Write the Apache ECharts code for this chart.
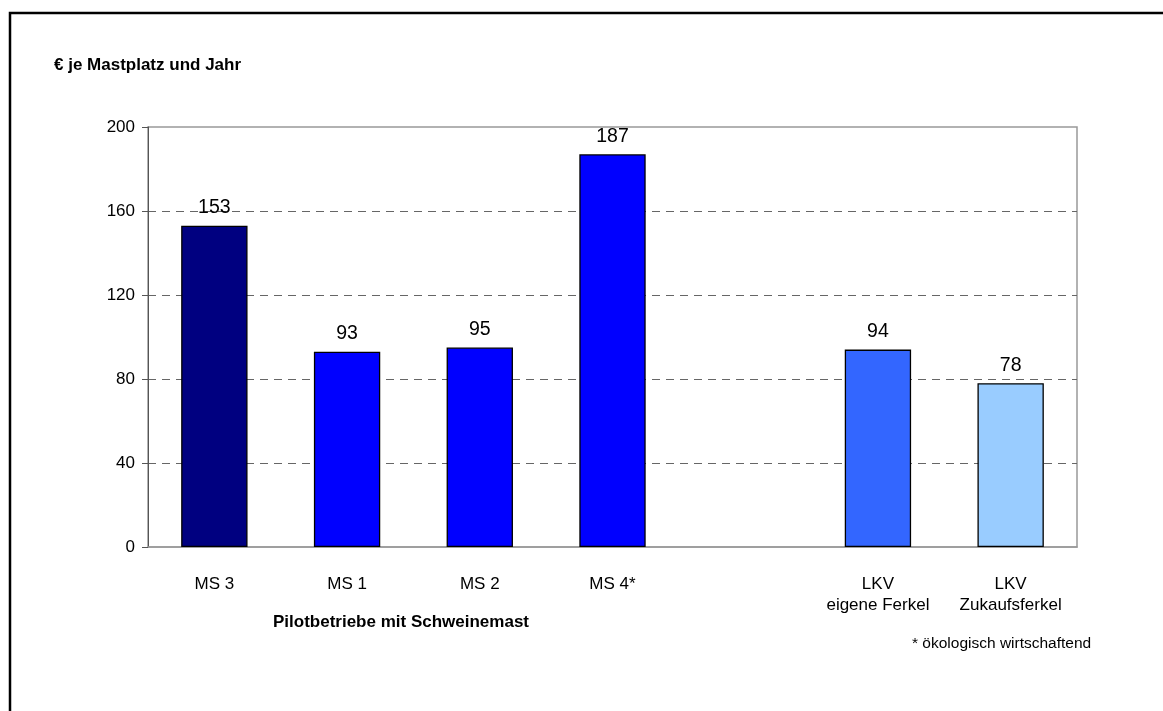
<!DOCTYPE html>
<html>
<head>
<meta charset="utf-8">
<script src="https://cdn.jsdelivr.net/npm/echarts@6/dist/echarts.min.js"></script>
<style>
html,body{margin:0;padding:0;background:#fff;}
#chart{width:1163px;height:711px;}
</style>
</head>
<body>
<div id="chart"></div>
<script>
const categories = ['MS 3', 'MS 1', 'MS 2', 'MS 4*', '', 'LKV\neigene Ferkel', 'LKV\nZukaufsferkel'];
const values = [153, 93, 95, 187, null, 94, 78];
const barColors = ['#000080', '#0000FF', '#0000FF', '#0000FF', '#FFFFFF', '#3366FF', '#99CCFF'];
const yTicks = [0, 40, 80, 120, 160, 200];
const titleText = '€ je Mastplatz und Jahr';
const groupLabel = 'Pilotbetriebe mit Schweinemast';
const footnote = '* ökologisch wirtschaftend';

const FONT = '"Liberation Sans", Arial, sans-serif';
const chart = echarts.init(document.getElementById('chart'), null, {renderer: 'canvas'});

chart.setOption({
  animation: false,
  backgroundColor: '#fff',
  title: {
    text: titleText,
    left: 49, top: 52,
    textStyle: {fontFamily: FONT, fontSize: 17, fontWeight: 'bold', color: '#000'}
  },
  grid: {
    left: 148, right: 86, top: 127, bottom: 164,
    show: true, borderColor: '#999', borderWidth: 1.5, backgroundColor: 'transparent'
  },
  xAxis: {
    type: 'category',
    data: categories,
    axisLine: {show: true, lineStyle: {color: '#999', width: 1.5}},
    axisTick: {show: false},
    axisLabel: {
      interval: 0, margin: 27, color: '#000',
      fontFamily: FONT, fontSize: 17, lineHeight: 21
    }
  },
  yAxis: {
    type: 'value',
    min: yTicks[0], max: yTicks[yTicks.length - 1], interval: 40,
    axisLine: {show: true, lineStyle: {color: '#555', width: 1}},
    axisTick: {show: true, inside: false, length: 6, lineStyle: {color: '#555'}},
    axisLabel: {margin: 13, color: '#000', fontFamily: FONT, fontSize: 17},
    splitLine: {show: true, showMinLine: false, showMaxLine: false,
      lineStyle: {color: '#666', type: [8, 6], width: 1}}
  },
  series: [{
    type: 'bar',
    barWidth: '50%',
    data: values.map((v, i) => ({
      value: v,
      itemStyle: {color: barColors[i], borderColor: '#000', borderWidth: 1.3}
    })),
    label: {
      show: true, position: 'top', distance: 8,
      color: '#000', fontFamily: FONT, fontSize: 19.5
    }
  }],
  graphic: [
    {
      type: 'rect', silent: true,
      shape: {x: 10, y: 13, width: 1400, height: 900},
      style: {fill: 'none', stroke: '#000', lineWidth: 2.5}
    },
    {
      type: 'text', silent: true,
      style: {
        x: 401, y: 622, text: groupLabel, align: 'center', verticalAlign: 'middle',
        font: 'bold 17px "Liberation Sans", Arial, sans-serif', fill: '#000'
      }
    },
    {
      type: 'text', silent: true,
      style: {
        x: 912, y: 644, text: footnote, align: 'left', verticalAlign: 'middle',
        font: '15.5px "Liberation Sans", Arial, sans-serif', fill: '#000'
      }
    }
  ]
});
</script>
</body>
</html>
